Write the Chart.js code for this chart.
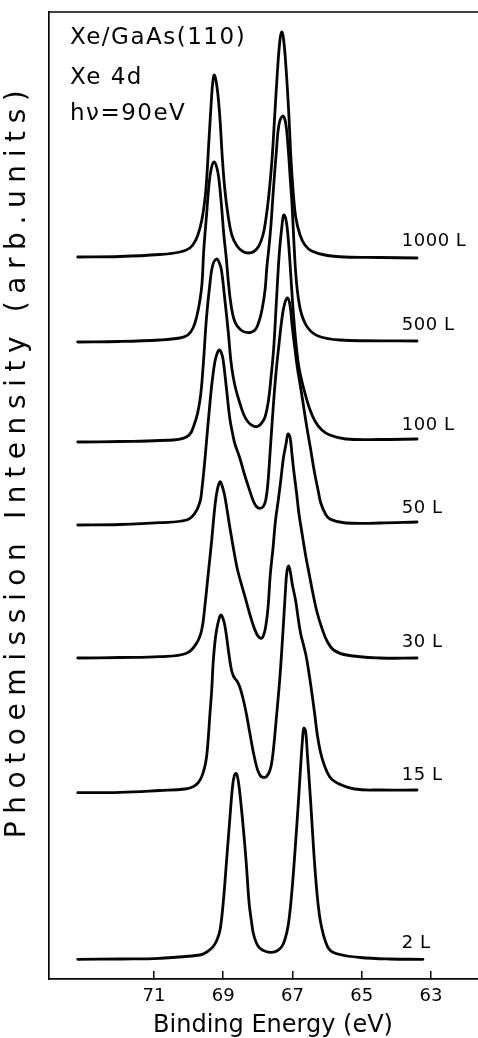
<!DOCTYPE html>
<html>
<head>
<meta charset="utf-8">
<script src="https://cdn.jsdelivr.net/npm/chart.js@4/dist/chart.umd.min.js"></script>
<style>
  html, body { margin: 0; padding: 0; background: #fff; }
  #wrap { width: 478px; height: 1038px; }
</style>
</head>
<body>
<div id="wrap"><canvas id="c" width="478" height="1038"></canvas></div>
<script>
// Xe 4d photoemission spectra of Xe on GaAs(110), hv = 90 eV, stacked by exposure.
// Binding energies in eV, intensities in arbitrary units above each spectrum's baseline.

const exposures = ['1000 L', '500 L', '100 L', '50 L', '30 L', '15 L', '2 L'];
const offsets   = [72.2, 63.8, 53.8, 45.5, 32.1, 18.8, 2.0];
const tickEnergies = [71, 69, 67, 65, 63];

const be1000 = [73.20, 71.98, 70.83, 70.25, 69.96, 69.79, 69.67, 69.59, 69.50, 69.41, 69.34, 69.30, 69.26, 69.21, 69.15, 69.09, 69.02, 68.95, 68.86, 68.75, 68.60, 68.43, 68.28, 68.11, 67.97, 67.85, 67.77, 67.68, 67.59, 67.51, 67.43, 67.36, 67.31, 67.26, 67.19, 67.11, 67.04, 66.97, 66.90, 66.78, 66.64, 66.44, 66.06, 65.48, 64.47, 63.40];
const int1000 = [0, 0.05, 0.25, 0.5, 0.9, 1.7, 2.9, 4.2, 6.7, 11.7, 15.7, 17.5, 18.2, 17.7, 16.2, 13.7, 9.7, 6.7, 4.2, 2.2, 1.1, 0.55, 0.4, 0.55, 1.1, 2.2, 3.7, 6.2, 9.7, 14.2, 18.7, 21.7, 22.5, 21.9, 19.2, 14.7, 9.7, 6.2, 3.9, 2.2, 1.2, 0.6, 0.2, 0, -0.05, -0.1];

const be500 = [73.20, 71.98, 70.83, 70.25, 70.02, 69.87, 69.76, 69.67, 69.61, 69.56, 69.48, 69.41, 69.34, 69.26, 69.18, 69.12, 69.05, 68.98, 68.91, 68.86, 68.78, 68.66, 68.49, 68.28, 68.08, 67.97, 67.88, 67.79, 67.74, 67.68, 67.62, 67.55, 67.46, 67.39, 67.28, 67.20, 67.13, 67.07, 67.01, 66.96, 66.90, 66.83, 66.73, 66.55, 66.26, 65.63, 63.40];
const int500 = [-0.1, -0.05, 0.1, 0.3, 0.6, 1.3, 2.5, 4.1, 5.8, 9.1, 12.6, 15.6, 17.3, 17.9, 17.3, 16.1, 13.6, 10.6, 8.3, 6.3, 3.8, 1.9, 1.1, 0.83, 1.1, 1.9, 3.1, 5.1, 7.3, 9.3, 11.6, 15.1, 19.1, 21.6, 22.5, 21.9, 19.6, 16.6, 13.6, 10.1, 6.6, 4.3, 2.6, 1.3, 0.5, 0.1, 0];

const be100 = [73.20, 71.98, 70.83, 70.06, 69.82, 69.67, 69.58, 69.48, 69.38, 69.30, 69.19, 69.11, 69.05, 68.95, 68.85, 68.78, 68.71, 68.63, 68.52, 68.40, 68.28, 68.16, 68.03, 67.91, 67.79, 67.69, 67.62, 67.54, 67.46, 67.38, 67.30, 67.25, 67.19, 67.13, 67.06, 66.99, 66.91, 66.84, 66.78, 66.67, 66.52, 66.35, 66.15, 65.92, 65.46, 64.47, 63.40];
const int100 = [-0.1, -0.05, 0.05, 0.4, 1.8, 4.1, 7.4, 12.4, 15.8, 17.6, 18.2, 17.8, 17.1, 14.1, 10.8, 8.1, 6.4, 5.1, 3.8, 2.6, 1.9, 1.55, 1.43, 1.7, 2.4, 4.1, 6.3, 9.3, 14.1, 18.7, 21.6, 22.6, 22.2, 20.6, 17.3, 13.6, 10.2, 8.0, 6.8, 5.2, 3.4, 2.0, 1.1, 0.6, 0.2, 0.15, 0.2];

const be50 = [73.20, 71.98, 70.83, 70.06, 69.82, 69.67, 69.61, 69.55, 69.48, 69.40, 69.32, 69.24, 69.17, 69.11, 69.05, 69.00, 68.90, 68.81, 68.72, 68.66, 68.52, 68.37, 68.23, 68.13, 68.04, 67.94, 67.84, 67.77, 67.71, 67.64, 67.56, 67.48, 67.39, 67.30, 67.22, 67.14, 67.07, 67.01, 66.93, 66.86, 66.78, 66.71, 66.64, 66.57, 66.47, 66.37, 66.26, 66.18, 66.06, 65.92, 65.46, 64.47, 63.40];
const int50 = [-0.1, -0.05, 0.13, 0.4, 1.07, 2.2, 3.6, 5.6, 8.3, 11.4, 14.2, 16.2, 17.1, 17.4, 17.1, 16.4, 13.4, 10.6, 8.9, 8.0, 6.6, 4.8, 3.3, 2.3, 1.75, 1.57, 1.75, 2.4, 4.0, 7.4, 11.4, 14.9, 17.9, 20.6, 22.1, 22.6, 21.9, 19.9, 17.6, 15.7, 14.0, 12.5, 10.9, 9.4, 7.4, 5.3, 3.4, 2.1, 1.1, 0.5, 0.1, 0.1, 0.2];

const be30 = [73.20, 71.98, 70.83, 70.06, 69.77, 69.62, 69.53, 69.43, 69.33, 69.24, 69.17, 69.09, 69.02, 68.95, 68.81, 68.66, 68.57, 68.37, 68.18, 68.03, 67.91, 67.83, 67.76, 67.70, 67.64, 67.56, 67.49, 67.40, 67.33, 67.26, 67.18, 67.13, 67.07, 67.01, 66.96, 66.88, 66.81, 66.71, 66.61, 66.51, 66.41, 66.29, 66.15, 66.00, 65.81, 65.44, 64.47, 63.40];
const int30 = [0, 0.05, 0.13, 0.47, 1.47, 2.8, 5.13, 8.47, 11.8, 15.13, 16.8, 17.63, 17.1, 16.13, 13.13, 10.13, 8.6, 6.13, 3.8, 2.4, 1.97, 2.3, 3.4, 5.2, 8.3, 11.0, 13.7, 16.0, 17.95, 20.0, 21.5, 22.4, 22.1, 20.3, 18.7, 16.5, 14.4, 12.2, 10.1, 8.3, 6.5, 4.6, 3.0, 1.7, 0.8, 0.3, 0, 0];

const be15 = [73.20, 71.98, 70.83, 70.10, 69.87, 69.73, 69.62, 69.54, 69.48, 69.43, 69.38, 69.33, 69.29, 69.24, 69.19, 69.12, 69.07, 69.01, 68.95, 68.90, 68.83, 68.76, 68.69, 68.60, 68.52, 68.43, 68.34, 68.23, 68.08, 67.94, 67.79, 67.68, 67.61, 67.55, 67.46, 67.36, 67.27, 67.20, 67.16, 67.11, 67.06, 67.00, 66.91, 66.83, 66.76, 66.68, 66.61, 66.54, 66.45, 66.36, 66.28, 66.19, 66.09, 65.92, 65.71, 65.20, 64.47, 63.40];
const int15 = [-0.17, -0.13, 0.05, 0.2, 0.43, 0.8, 1.43, 2.3, 3.4, 5.3, 7.8, 10.1, 12.8, 14.8, 16.1, 17.2, 17.6, 17.3, 16.5, 15.4, 13.6, 12.1, 11.4, 11.0, 10.4, 9.3, 7.9, 5.8, 3.1, 1.6, 1.37, 1.8, 2.6, 4.1, 7.43, 11.43, 16.1, 20.1, 21.9, 22.5, 21.9, 20.6, 19.1, 17.2, 15.7, 14.6, 13.6, 12.2, 10.1, 7.8, 5.6, 3.9, 2.7, 1.4, 0.8, 0.2, 0.1, 0.1];

const be2 = [73.20, 71.98, 70.83, 69.67, 69.47, 69.29, 69.18, 69.09, 69.00, 68.90, 68.81, 68.73, 68.68, 68.63, 68.59, 68.54, 68.44, 68.34, 68.25, 68.18, 68.13, 68.04, 67.94, 67.77, 67.60, 67.45, 67.31, 67.22, 67.12, 67.02, 66.93, 66.83, 66.76, 66.71, 66.67, 66.62, 66.57, 66.47, 66.38, 66.29, 66.22, 66.16, 66.06, 65.92, 65.63, 65.05, 64.19, 63.23];
const int2 = [-0.03, 0, 0.07, 0.4, 0.7, 1.23, 1.9, 2.9, 5.57, 9.9, 13.9, 17.23, 18.3, 18.57, 18.3, 17.23, 13.9, 9.9, 5.57, 3.7, 2.57, 1.6, 1.07, 0.75, 0.67, 0.8, 1.23, 1.9, 3.4, 6.57, 10.57, 15.57, 19.4, 21.9, 23.07, 22.8, 20.57, 15.57, 10.57, 6.57, 4.4, 3.23, 1.9, 0.9, 0.45, 0.15, 0, -0.03];

const spectraEnergy    = [be1000, be500, be100, be50, be30, be15, be2];
const spectraIntensity = [int1000, int500, int100, int50, int30, int15, int2];

const INK = '#050505';
const FONT = '"DejaVu Sans", "Liberation Sans", sans-serif';

// each spectrum is lifted by its own baseline offset
const datasets = exposures.map((name, i) => ({
  label: name,
  data: spectraEnergy[i].map((e, k) => ({ x: e, y: spectraIntensity[i][k] + offsets[i] })),
  borderColor: INK,
  borderWidth: 2.8,
  pointRadius: 0,
  fill: false,
  tension: 0.4,
  borderJoinStyle: 'round',
  borderCapStyle: 'round'
}));

// shifts / letter spacing for the axis titles
const titleStyle = {
  id: 'titleStyle',
  beforeDraw(chart, args, opts) {
    Object.keys(opts).forEach(id => {
      const s = chart.scales[id];
      if (!s || s.__styled) return;
      const o = opts[id];
      const orig = s.drawTitle;
      s.drawTitle = function () {
        const c = this.ctx;
        c.save();
        c.translate(o.dx || 0, o.dy || 0);
        c.letterSpacing = (o.spacing || 0) + 'px';
        orig.call(this);
        c.restore();
      };
      s.__styled = true;
    });
  }
};

// frame top edge, header text and exposure labels
const labelEnergy = 63.84;
const labelLift = 1.55;
const annotations = {
  id: 'annotations',
  afterDraw(chart) {
    const { ctx, chartArea, scales: { x, y } } = chart;
    ctx.save();
    ctx.strokeStyle = INK;
    ctx.lineWidth = 1.7;
    ctx.beginPath();
    ctx.moveTo(chartArea.left, chartArea.top);
    ctx.lineTo(chartArea.right, chartArea.top);
    ctx.stroke();

    ctx.fillStyle = INK;
    ctx.textAlign = 'left';
    ctx.textBaseline = 'middle';
    ctx.font = '18px ' + FONT;
    ctx.letterSpacing = '0.5px';
    exposures.forEach((name, i) => {
      ctx.fillText(name, x.getPixelForValue(labelEnergy), y.getPixelForValue(offsets[i] + labelLift));
    });

    ctx.font = '23px ' + FONT;
    ctx.letterSpacing = '1.5px';
    const hx = chartArea.left + 21;
    ctx.fillText('Xe/GaAs(110)', hx, chartArea.top + 26);
    ctx.fillText('Xe 4d', hx, chartArea.top + 66);
    ctx.fillText('h\u03BD=90eV', hx, chartArea.top + 102);
    ctx.restore();
  }
};

new Chart(document.getElementById('c'), {
  type: 'line',
  data: { datasets },
  options: {
    responsive: false,
    devicePixelRatio: 1,
    animation: false,
    layout: { padding: { top: 12, right: 0, bottom: 0, left: 0 } },
    plugins: {
      legend: { display: false },
      tooltip: { enabled: false },
      titleStyle: { x: { dx: 9.5, spacing: 0 }, y: { dy: -35, spacing: 7.6 } }
    },
    scales: {
      x: {
        type: 'linear',
        reverse: true,
        min: 61.64,
        max: 74.03,
        afterBuildTicks: s => { s.ticks = tickEnergies.map(v => ({ value: v })); },
        afterFit: s => { s.height = 59; },
        grid: { display: true, drawOnChartArea: false, drawTicks: true, tickLength: -8, color: INK, lineWidth: 1.5 },
        border: { display: true, color: INK, width: 1.7 },
        ticks: { color: INK, padding: 15, font: { family: FONT, size: 18 }, maxRotation: 0, autoSkip: false },
        title: { display: true, text: 'Binding Energy (eV)', color: INK, padding: 0, font: { family: FONT, size: 24, lineHeight: 1 } }
      },
      y: {
        type: 'linear',
        min: 0,
        max: 96.7,
        afterFit: s => { s.width = 49; },
        grid: { display: false },
        border: { display: true, color: INK, width: 1.7 },
        ticks: { display: false },
        title: { display: true, text: 'Photoemission Intensity (arb.units)', color: INK, padding: { top: 3.5, bottom: 0 }, font: { family: FONT, size: 28, lineHeight: 1 } }
      }
    }
  },
  plugins: [titleStyle, annotations]
});
</script>
</body>
</html>
